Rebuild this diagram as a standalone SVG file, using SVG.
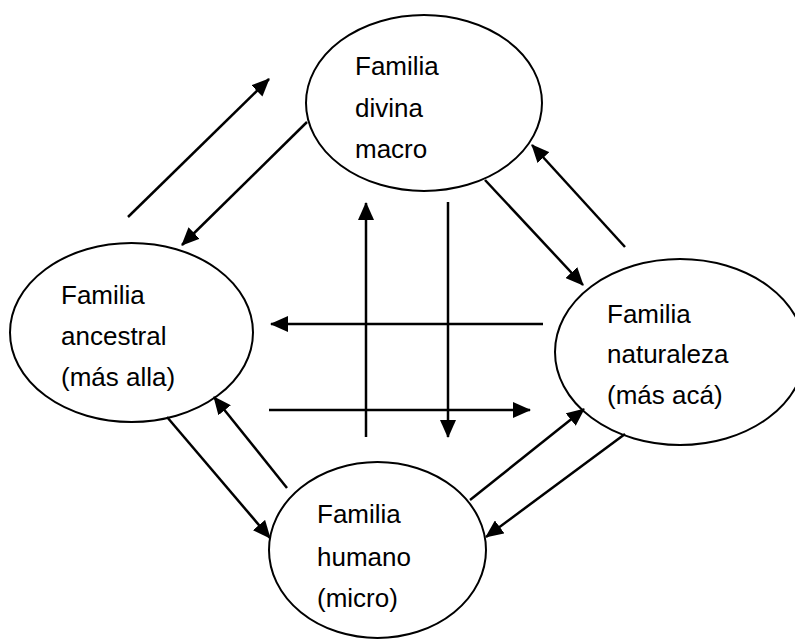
<svg xmlns="http://www.w3.org/2000/svg" width="795" height="639" viewBox="0 0 795 639">
<defs>
<style>
.node{fill:#fff;stroke:#000;stroke-width:2}
.lbl{font-family:"Liberation Sans",Arial,sans-serif;font-size:26px;fill:#000}
.con line{stroke:#000;stroke-width:2.5;fill:none}
</style>
<marker id="ah" markerUnits="userSpaceOnUse" markerWidth="18" markerHeight="16" refX="17" refY="8" orient="auto">
<path d="M0,0 L18,8 L0,16 z" fill="#000"/>
</marker>
</defs>
<rect width="795" height="639" fill="#fff"/>
<g id="n-divina">
<ellipse class="node" cx="424" cy="103" rx="118" ry="88"/>
<text class="lbl" x="355" y="75">Familia</text>
<text class="lbl" x="355" y="117">divina</text>
<text class="lbl" x="355" y="158">macro</text>
</g>
<g id="n-ancestral">
<ellipse class="node" cx="131.5" cy="332.5" rx="121.5" ry="89.5"/>
<text class="lbl" x="61" y="304">Familia</text>
<text class="lbl" x="61" y="345">ancestral</text>
<text class="lbl" x="61" y="386">(más alla)</text>
</g>
<g id="n-naturaleza">
<ellipse class="node" cx="680" cy="352" rx="125" ry="93"/>
<text class="lbl" x="607" y="323">Familia</text>
<text class="lbl" x="607" y="363">naturaleza</text>
<text class="lbl" x="607" y="404">(más acá)</text>
</g>
<g id="n-humano">
<ellipse class="node" cx="377.5" cy="550" rx="108.5" ry="88"/>
<text class="lbl" x="317" y="523">Familia</text>
<text class="lbl" x="317" y="566">humano</text>
<text class="lbl" x="317" y="607">(micro)</text>
</g>
<g id="connectors" class="con">
<line x1="128" y1="217" x2="269" y2="79" marker-end="url(#ah)"/>
<line x1="307" y1="122" x2="182" y2="245" marker-end="url(#ah)"/>
<line x1="485" y1="180" x2="583" y2="285" marker-end="url(#ah)"/>
<line x1="625" y1="247" x2="532" y2="145" marker-end="url(#ah)"/>
<line x1="287" y1="488" x2="214" y2="397" marker-end="url(#ah)"/>
<line x1="167" y1="417" x2="270" y2="538" marker-end="url(#ah)"/>
<line x1="470" y1="500" x2="584" y2="409" marker-end="url(#ah)"/>
<line x1="625" y1="434" x2="486" y2="537" marker-end="url(#ah)"/>
<line x1="366" y1="437" x2="366" y2="203" marker-end="url(#ah)"/>
<line x1="448" y1="202" x2="448" y2="437" marker-end="url(#ah)"/>
<line x1="543" y1="324" x2="271" y2="324" marker-end="url(#ah)"/>
<line x1="269" y1="410" x2="530" y2="410" marker-end="url(#ah)"/>
</g>
</svg>
